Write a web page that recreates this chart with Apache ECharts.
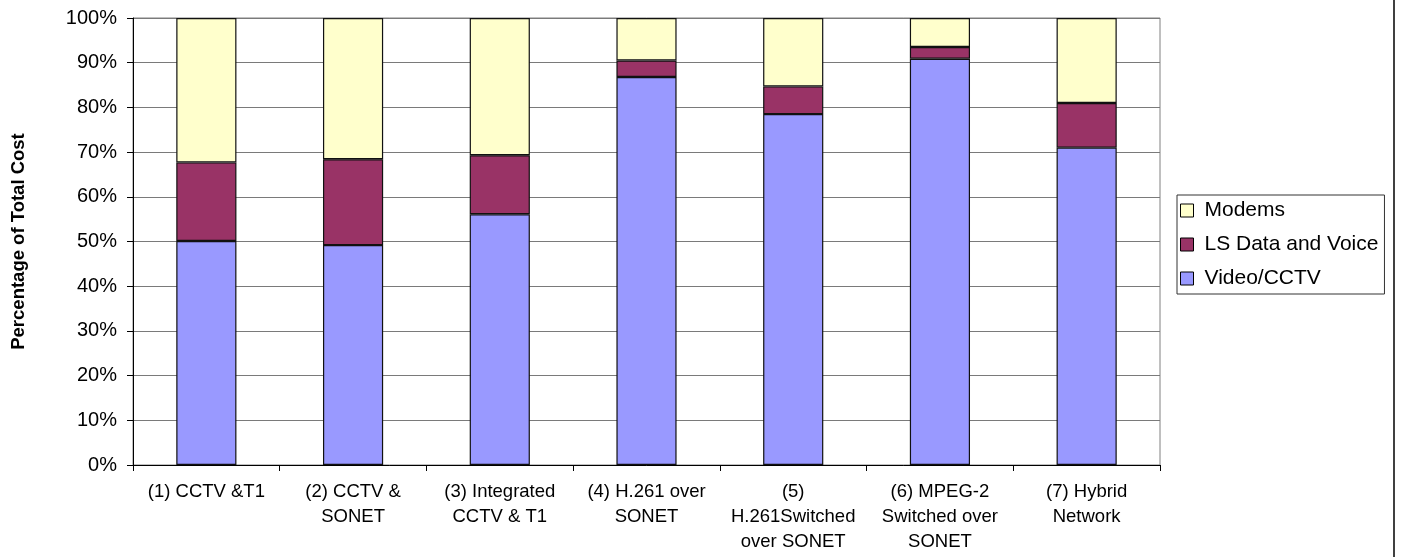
<!DOCTYPE html>
<html>
<head>
<meta charset="utf-8">
<script src="https://cdn.jsdelivr.net/npm/echarts@6/dist/echarts.min.js"></script>
<style>html,body{margin:0;padding:0;background:#fff}#c{width:1401px;height:557px}</style>
</head>
<body>
<div id="c"></div>
<script>
var categories = ["(1) CCTV &T1", "(2) CCTV &\nSONET", "(3) Integrated\nCCTV & T1", "(4) H.261 over\nSONET", "(5)\nH.261Switched\nover SONET", "(6) MPEG-2\nSwitched over\nSONET", "(7) Hybrid\nNetwork"];
var videoCCTV = [50.1, 49.2, 56.1, 86.8, 78.5, 90.9, 71.0];
var lsDataVoice = [17.6, 19.2, 13.2, 3.7, 6.2, 2.6, 10.0];
var modems = [32.3, 31.6, 30.7, 9.5, 15.3, 6.5, 19.0];
var yTicks = [0, 10, 20, 30, 40, 50, 60, 70, 80, 90, 100];

var font = "Arial, 'Liberation Sans', sans-serif";
var chart = echarts.init(document.getElementById('c'), null, {renderer: 'canvas'});
function ser(name, data, color) {
  return {
    name: name, type: 'bar', stack: 'total', data: data, barWidth: '41%',
    itemStyle: {color: color, borderColor: '#111', borderWidth: 1.2},
    emphasis: {disabled: true}
  };
}
chart.setOption({
  animation: false,
  backgroundColor: '#fff',
  textStyle: {fontFamily: font},
  grid: {left: 133, top: 18, right: 241, bottom: 92, show: true, borderColor: '#808080', borderWidth: 1},
  legend: {
    orient: 'vertical', left: 1177, top: 195,
    data: ['Modems', 'LS Data and Voice', 'Video/CCTV'],
    icon: 'rect', itemWidth: 13, itemHeight: 13, itemGap: 13,
    itemStyle: {borderColor: '#000', borderWidth: 1},
    borderColor: '#333', borderWidth: 1, padding: [5, 6, 5, 3],
    textStyle: {fontFamily: font, fontSize: 21, color: '#000', lineHeight: 20, padding: [0, 0, 0, 6]},
    selectedMode: false
  },
  xAxis: {
    type: 'category', data: categories,
    axisLine: {lineStyle: {color: '#000', width: 1}},
    axisTick: {show: true, length: 6, lineStyle: {color: '#000'}},
    axisLabel: {color: '#000', fontSize: 18.5, lineHeight: 25, margin: 14, interval: 0, fontFamily: font}
  },
  yAxis: {
    type: 'value', min: 0, max: 100, interval: 10,
    name: 'Percentage of Total Cost', nameLocation: 'middle', nameGap: 105,
    nameTextStyle: {fontFamily: font, fontSize: 18.5, fontWeight: 'bold', color: '#000'},
    axisLine: {show: true, lineStyle: {color: '#000', width: 1}},
    axisTick: {show: true, length: 6, lineStyle: {color: '#000'}},
    axisLabel: {color: '#000', fontSize: 20, margin: 16, fontFamily: font, formatter: function (v) { return v + '%'; }},
    splitLine: {show: true, lineStyle: {color: '#7a7a7a', width: 1.2}}
  },
  series: [
    ser('Video/CCTV', videoCCTV, '#9999FF'),
    ser('LS Data and Voice', lsDataVoice, '#993366'),
    ser('Modems', modems, '#FFFFCC')
  ],
  graphic: [{
    type: 'line', shape: {x1: 1394, y1: 0, x2: 1394, y2: 557},
    style: {stroke: '#404040', lineWidth: 2}, silent: true
  }]
});
</script>
</body>
</html>
